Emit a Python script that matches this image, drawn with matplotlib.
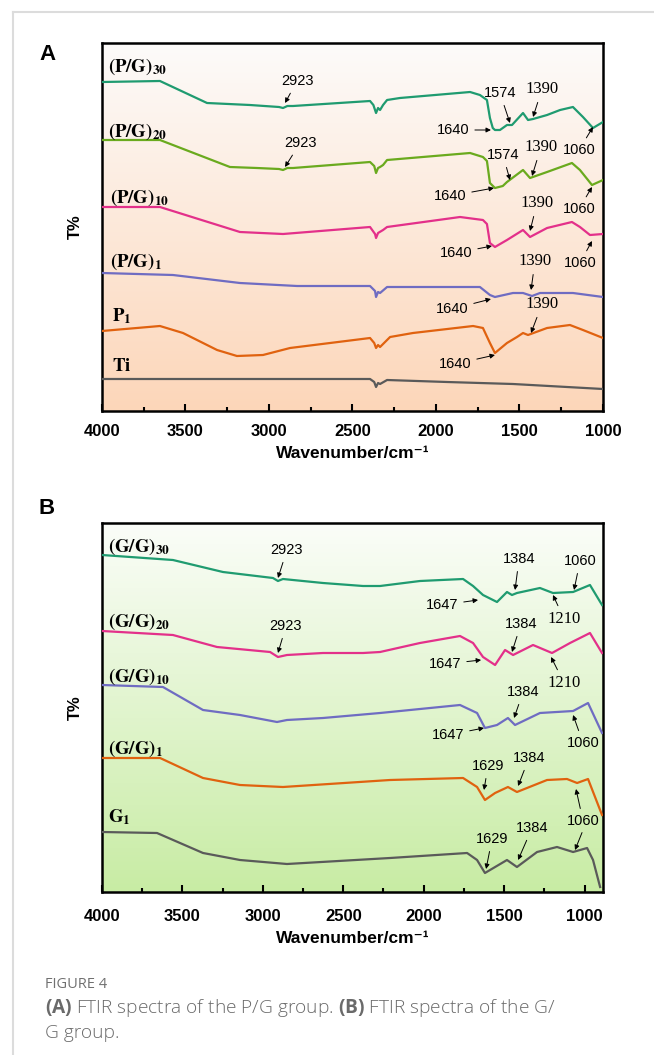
import matplotlib
matplotlib.use("Agg")
import matplotlib.pyplot as plt
import numpy as np
from matplotlib.colors import LinearSegmentedColormap
from matplotlib.lines import Line2D
from matplotlib.ticker import MultipleLocator

# ---- panel A: P/G group (wavenumber, offset transmittance) ----
pg30_wn = [4000, 3653, 3371, 3114, 2940, 2916, 2890, 2856, 2395, 2375, 2359, 2347, 2335, 2317, 2293,
           2216, 1796, 1737, 1695, 1677, 1660, 1647, 1617, 1575, 1545, 1479, 1449, 1419, 1335, 1257,
           1180, 1120, 1060, 1000]
pg30_t = [329, 330, 308, 306, 304, 303, 305, 305, 310, 306, 298, 303, 301, 306, 311,
          313, 319, 316, 311, 293, 283, 281, 281, 286, 286, 298, 291, 292, 296, 301,
          304, 294, 283, 289]

pg20_wn = [4000, 3653, 3234, 3072, 2940, 2916, 2890, 2856, 2395, 2370, 2359, 2347, 2335, 2317, 2293,
           1796, 1719, 1695, 1677, 1647, 1600, 1575, 1479, 1437, 1335, 1186, 1138, 1066, 1000]
pg20_t = [271, 271, 244, 243, 242, 241, 243, 243, 249, 245, 238, 243, 244, 246, 251,
          258, 254, 250, 228, 223, 225, 229, 241, 233, 239, 248, 241, 226, 231]

pg10_wn = [4000, 3653, 3174, 2916, 2395, 2365, 2359, 2347, 2317, 2293, 1856, 1719, 1695, 1677,
           1647, 1575, 1479, 1437, 1335, 1186, 1138, 1078, 1000]
pg10_t = [204, 204, 179, 177, 184, 177, 173, 178, 181, 184, 194, 191, 187, 168,
          164, 171, 181, 174, 183, 189, 184, 176, 177]

pg1_wn = [4000, 3575, 3174, 2832, 2395, 2365, 2359, 2347, 2335, 2293, 1737, 1677, 1647, 1539,
          1479, 1425, 1377, 1180, 1000]
pg1_t = [138, 136, 128, 125, 125, 120, 114, 119, 118, 124, 124, 116, 114, 118,
         118, 115, 118, 118, 114]

p1_wn = [4000, 3653, 3515, 3311, 3192, 3036, 2874, 2395, 2370, 2359, 2347, 2335, 2275, 2138,
         1778, 1719, 1677, 1647, 1575, 1515, 1479, 1449, 1335, 1198, 1120, 1000]
p1_t = [80, 85, 78, 61, 55, 56, 63, 73, 68, 63, 66, 64, 74, 78,
        85, 83, 68, 58, 68, 74, 78, 76, 83, 86, 81, 73]

ti_wn = [4000, 2395, 2370, 2359, 2347, 2335, 2293, 1934, 1539, 1000]
ti_t = [32, 32, 29, 24, 28, 27, 31, 29, 27, 22]

# ---- panel B: G/G group ----
gg30_wn = [4000, 3559, 3248, 2937, 2906, 2875, 2626, 2377, 2271, 2023, 1755, 1693, 1631, 1544,
           1482, 1451, 1420, 1277, 1196, 1071, 966, 891]
gg30_t = [337, 332, 320, 314, 311, 313, 309, 306, 306, 311, 313, 306, 297, 290,
          300, 297, 299, 304, 299, 300, 307, 287]

gg20_wn = [4000, 3559, 3285, 2955, 2906, 2850, 2626, 2377, 2271, 2023, 1774, 1693, 1631, 1556,
           1494, 1444, 1320, 1202, 1090, 966, 891]
gg20_t = [261, 257, 245, 240, 235, 237, 239, 239, 240, 249, 256, 249, 235, 227,
          242, 237, 247, 239, 249, 259, 239]

gg10_wn = [4000, 3621, 3372, 3142, 2912, 2850, 2626, 2271, 1774, 1668, 1619, 1544, 1476, 1432,
           1277, 1071, 978, 891]
gg10_t = [207, 205, 182, 177, 170, 172, 174, 179, 187, 179, 164, 167, 174, 167,
          179, 181, 189, 159]

gg1_wn = [4000, 3639, 3372, 3142, 2875, 2209, 1755, 1668, 1619, 1556, 1476, 1420, 1233, 1109,
          1046, 978, 891]
gg1_t = [134, 134, 114, 107, 105, 112, 114, 105, 92, 99, 105, 100, 112, 113,
         109, 113, 77]

g1_wn = [4000, 3658, 3372, 3142, 2850, 2209, 1730, 1668, 1619, 1482, 1420, 1295, 1171, 1071,
         984, 947, 903]
g1_t = [60, 59, 39, 32, 28, 34, 39, 32, 19, 32, 25, 40, 45, 40,
        44, 32, 5]

green = "#1f9b70"
lime = "#6aaa1e"
magenta = "#e3308a"
purple = "#6f6cc2"
orange = "#e0620f"
gray = "#5a5a5a"


def gradient(ax, top, bottom):
    cmap = LinearSegmentedColormap.from_list("bg", [bottom, top])
    ax.imshow(np.linspace(0, 1, 256).reshape(-1, 1), cmap=cmap, aspect="auto",
              extent=[0, 1, 0, 1], transform=ax.transAxes, origin="lower", zorder=0)


def style_axes(ax, xmin, pad):
    ax.set_xlim(4000, xmin)
    ax.xaxis.set_major_locator(MultipleLocator(500))
    ax.xaxis.set_minor_locator(MultipleLocator(250))
    ax.set_yticks([])
    ax.tick_params(axis="x", which="both", direction="in", top=False, width=1.5, pad=pad)
    ax.tick_params(axis="x", which="major", length=5)
    ax.tick_params(axis="x", which="minor", length=3)
    for lbl in ax.get_xticklabels():
        lbl.set_fontweight("bold")
        lbl.set_fontsize(12)
        lbl.set_family("Liberation Sans")
    for s in ax.spines.values():
        s.set_linewidth(1.8)
    ax.set_xlabel("Wavenumber/cm\u207b\u00b9", fontsize=12.5, fontweight="bold",
                  family=["Liberation Sans", "DejaVu Sans"], labelpad=5)
    ax.set_ylabel("T%", fontsize=12, fontweight="bold", family="Liberation Sans", labelpad=14)


def series_label(ax, x, y, text):
    ax.text(x, y, text, fontsize=13.5, math_fontfamily="stix", ha="left", va="baseline", zorder=5)


def note(ax, text, tip, pos, serif=False):
    fam = "Liberation Serif" if serif else "Liberation Sans"
    size = 12 if serif else 10.5
    ax.annotate(text, xy=tip, xytext=pos, ha="center", va="center", fontsize=size, family=fam,
                zorder=6,
                arrowprops=dict(arrowstyle="-|>", color="black", lw=0.7, mutation_scale=7,
                                shrinkA=2, shrinkB=0))


def main():
    fig = plt.figure(figsize=(6.54, 10.55), dpi=100)
    W, H = 654, 1055

    # card frame
    fig.add_artist(Line2D([13 / W, 13 / W], [0, 1 - 12 / H], transform=fig.transFigure,
                          color="#dcdcdc", lw=1.5))
    fig.add_artist(Line2D([13 / W, 1], [1 - 12 / H, 1 - 12 / H], transform=fig.transFigure,
                          color="#dcdcdc", lw=1.5))

    # ---------------- panel A ----------------
    axA = fig.add_axes([102 / W, 1 - 411 / H, 501 / W, 368 / H])
    gradient(axA, "#fcfbfa", "#fdd6b9")
    for wn, t, c in [(pg30_wn, pg30_t, green), (pg20_wn, pg20_t, lime), (pg10_wn, pg10_t, magenta),
                     (pg1_wn, pg1_t, purple), (p1_wn, p1_t, orange), (ti_wn, ti_t, gray)]:
        axA.plot(wn, t, color=c, lw=1.6, zorder=3)
    axA.set_ylim(0, 368)
    style_axes(axA, 1000, 9.5)

    series_label(axA, 3964, 339, r"$\mathbf{(P/G)_{30}}$")
    series_label(axA, 3964, 274, r"$\mathbf{(P/G)_{20}}$")
    series_label(axA, 3955, 208, r"$\mathbf{(P/G)_{10}}$")
    series_label(axA, 3955, 144, r"$\mathbf{(P/G)_{1}}$")
    series_label(axA, 3940, 90, r"$\mathbf{P_{1}}$")
    series_label(axA, 3940, 40, r"$\mathbf{Ti}$")

    notes_a = [
        ("2923", (2904, 308), (2832, 330), False),
        ("2923", (2904, 244), (2814, 268), False),
        ("1574", (1557, 288), (1617, 318), False),
        ("1390", (1419, 294), (1365, 322), True),
        ("1640", (1671, 281), (1898, 281), False),
        ("1060", (1060, 284), (1144, 261), False),
        ("1574", (1557, 231), (1599, 256), False),
        ("1390", (1425, 235), (1371, 264), True),
        ("1640", (1653, 223), (1916, 215), False),
        ("1060", (1066, 224), (1144, 202), False),
        ("1390", (1437, 180), (1395, 208), True),
        ("1640", (1665, 165), (1880, 158), False),
        ("1060", (1066, 170), (1138, 148), False),
        ("1390", (1431, 121), (1407, 150), True),
        ("1640", (1671, 112), (1904, 102), False),
        ("1390", (1431, 78), (1365, 107), True),
        ("1640", (1647, 56), (1886, 47), False),
    ]
    for text, tip, pos, serif in notes_a:
        note(axA, text, tip, pos, serif)

    # ---------------- panel B ----------------
    axB = fig.add_axes([102 / W, 1 - 892 / H, 501 / W, 369 / H])
    gradient(axB, "#fbfdf9", "#c8eca4")
    for wn, t, c in [(gg30_wn, gg30_t, green), (gg20_wn, gg20_t, magenta), (gg10_wn, gg10_t, purple),
                     (gg1_wn, gg1_t, orange), (g1_wn, g1_t, gray)]:
        axB.plot(wn, t, color=c, lw=1.6, zorder=3)
    axB.set_ylim(0, 369)
    style_axes(axB, 885, 12)

    series_label(axB, 3963, 340, r"$\mathbf{(G/G)_{30}}$")
    series_label(axB, 3963, 265, r"$\mathbf{(G/G)_{20}}$")
    series_label(axB, 3963, 210, r"$\mathbf{(G/G)_{10}}$")
    series_label(axB, 3963, 138, r"$\mathbf{(G/G)_{1}}$")
    series_label(axB, 3963, 70, r"$\mathbf{G_{1}}$")

    notes_b = [
        ("2923", (2906, 314), (2850, 342), False),
        ("2923", (2906, 239), (2856, 266), False),
        ("1384", (1432, 302), (1407, 333), False),
        ("1060", (1065, 302), (1028, 331), False),
        ("1647", (1662, 292), (1886, 287), False),
        ("1210", (1196, 297), (1127, 273), True),
        ("1384", (1451, 240), (1395, 268), False),
        ("1647", (1643, 232), (1867, 228), False),
        ("1210", (1208, 235), (1127, 209), True),
        ("1384", (1438, 174), (1382, 200), False),
        ("1647", (1625, 164), (1849, 157), False),
        ("1060", (1071, 177), (1009, 149), False),
        ("1629", (1625, 102), (1600, 126), False),
        ("1384", (1413, 106), (1345, 134), False),
        ("1060", (1053, 103), (1009, 71), False),
        ("", (1059, 42), (1009, 62), False),
        ("1629", (1612, 23), (1575, 53), False),
        ("1384", (1413, 32), (1326, 64), False),
    ]
    for text, tip, pos, serif in notes_b:
        note(axB, text, tip, pos, serif)

    # panel letters
    fig.text(47 / W, 1 - 55 / H, "A", fontsize=16, fontweight="bold", family="Liberation Sans",
             ha="center", va="center")
    fig.text(47 / W, 1 - 508 / H, "B", fontsize=16, fontweight="bold", family="Liberation Sans",
             ha="center", va="center")

    # caption
    plt.rcParams["mathtext.bf"] = "Open Sans:bold"
    plt.rcParams["mathtext.rm"] = "Open Sans"
    fig.text(45 / W, 1 - 985 / H, "FIGURE 4", fontsize=10.5, color="#707070", family="Open Sans",
             ha="left", va="center")
    fig.text(45 / W, 1 - 1008 / H,
             r"$\mathbf{(A)}$ FTIR spectra of the P/G group. $\mathbf{(B)}$ FTIR spectra of the G/",
             fontsize=13.8, color="#6a6a6a", family="Open Sans", weight="light",
             math_fontfamily="custom", ha="left", va="center")
    fig.text(45 / W, 1 - 1033 / H, "G group.", fontsize=13.8, color="#6a6a6a", family="Open Sans",
             weight="light", ha="left", va="center")

    fig.savefig("out.png", dpi=100)


if __name__ == "__main__":
    main()
